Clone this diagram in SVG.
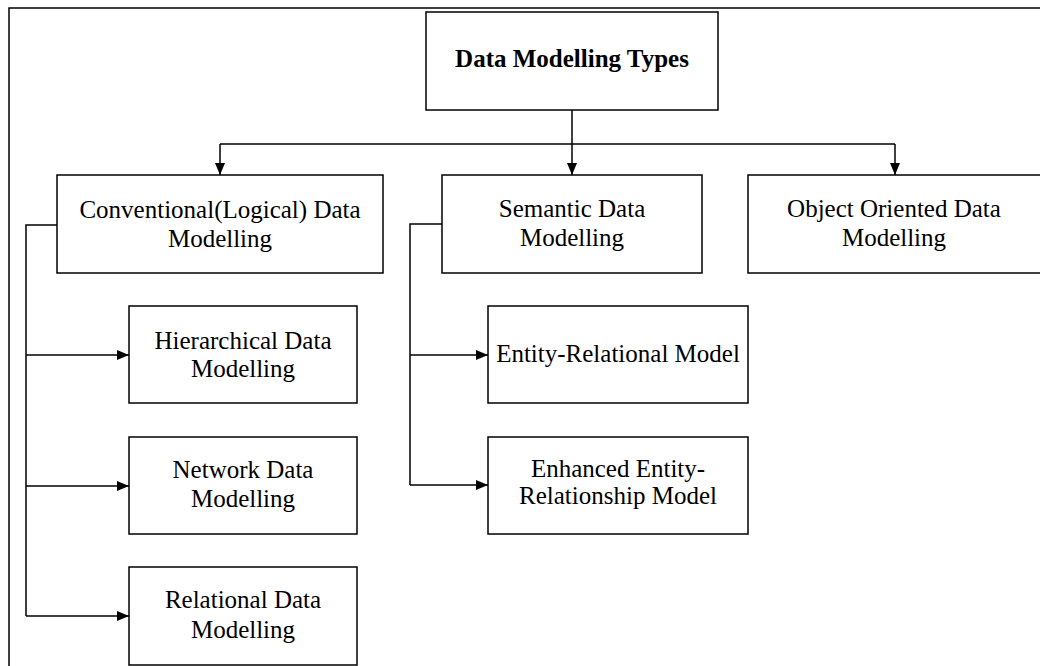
<svg xmlns="http://www.w3.org/2000/svg" width="1040" height="666" viewBox="0 0 1040 666">
<style>
.box{fill:#fff;stroke:#000;stroke-width:1.5}
.t{font-family:"Liberation Serif","Times New Roman",serif;font-size:25px;fill:#000;text-anchor:middle}
.b{font-weight:bold}
.c{fill:none;stroke:#000;stroke-width:1.5}
</style>
<defs>
<marker id="ah" viewBox="0 0 12 10" refX="12" refY="5" markerWidth="12" markerHeight="10" markerUnits="userSpaceOnUse" orient="auto">
<path d="M0,0 L12,5 L0,10 Z" fill="#000"/>
</marker>
</defs>
<rect width="1040" height="666" fill="#fff"/>
<path d="M9,666 V8 H1040" fill="none" stroke="#000" stroke-width="1.5"/>
<g id="connectors">
<path class="c" d="M572,110 V144"/>
<path class="c" d="M220,144 H895"/>
<path class="c" d="M220,144 V175" marker-end="url(#ah)"/>
<path class="c" d="M572,144 V175" marker-end="url(#ah)"/>
<path class="c" d="M895,144 V175" marker-end="url(#ah)"/>
<path class="c" d="M57,225 H26 V616"/>
<path class="c" d="M26,355 H129" marker-end="url(#ah)"/>
<path class="c" d="M26,486 H129" marker-end="url(#ah)"/>
<path class="c" d="M26,616 H129" marker-end="url(#ah)"/>
<path class="c" d="M442,224 H410 V485"/>
<path class="c" d="M410,355 H488" marker-end="url(#ah)"/>
<path class="c" d="M410,485 H488" marker-end="url(#ah)"/>
</g>
<g id="root">
<rect class="box" x="426" y="12" width="292" height="98"/>
<text class="t b" x="572" y="67">Data Modelling Types</text>
</g>
<g id="conventional">
<rect class="box" x="57" y="175" width="326" height="98"/>
<text class="t" x="220" y="218">Conventional(Logical) Data</text>
<text class="t" x="220" y="247">Modelling</text>
</g>
<g id="semantic">
<rect class="box" x="442" y="175" width="260" height="98"/>
<text class="t" x="572" y="217">Semantic Data</text>
<text class="t" x="572" y="246">Modelling</text>
</g>
<g id="object">
<rect class="box" x="748" y="175" width="293" height="98"/>
<text class="t" x="894" y="217">Object Oriented Data</text>
<text class="t" x="894" y="246">Modelling</text>
</g>
<g id="hierarchical">
<rect class="box" x="129" y="306" width="228" height="97"/>
<text class="t" x="243" y="349">Hierarchical Data</text>
<text class="t" x="243" y="377">Modelling</text>
</g>
<g id="network">
<rect class="box" x="129" y="437" width="228" height="97"/>
<text class="t" x="243" y="478">Network Data</text>
<text class="t" x="243" y="507">Modelling</text>
</g>
<g id="relational">
<rect class="box" x="129" y="567" width="228" height="98"/>
<text class="t" x="243" y="608">Relational Data</text>
<text class="t" x="243" y="638">Modelling</text>
</g>
<g id="entity-relational">
<rect class="box" x="488" y="306" width="260" height="97"/>
<text class="t" x="618" y="362">Entity-Relational Model</text>
</g>
<g id="enhanced">
<rect class="box" x="488" y="437" width="260" height="97"/>
<text class="t" x="618" y="477">Enhanced Entity-</text>
<text class="t" x="618" y="504">Relationship Model</text>
</g>
</svg>
